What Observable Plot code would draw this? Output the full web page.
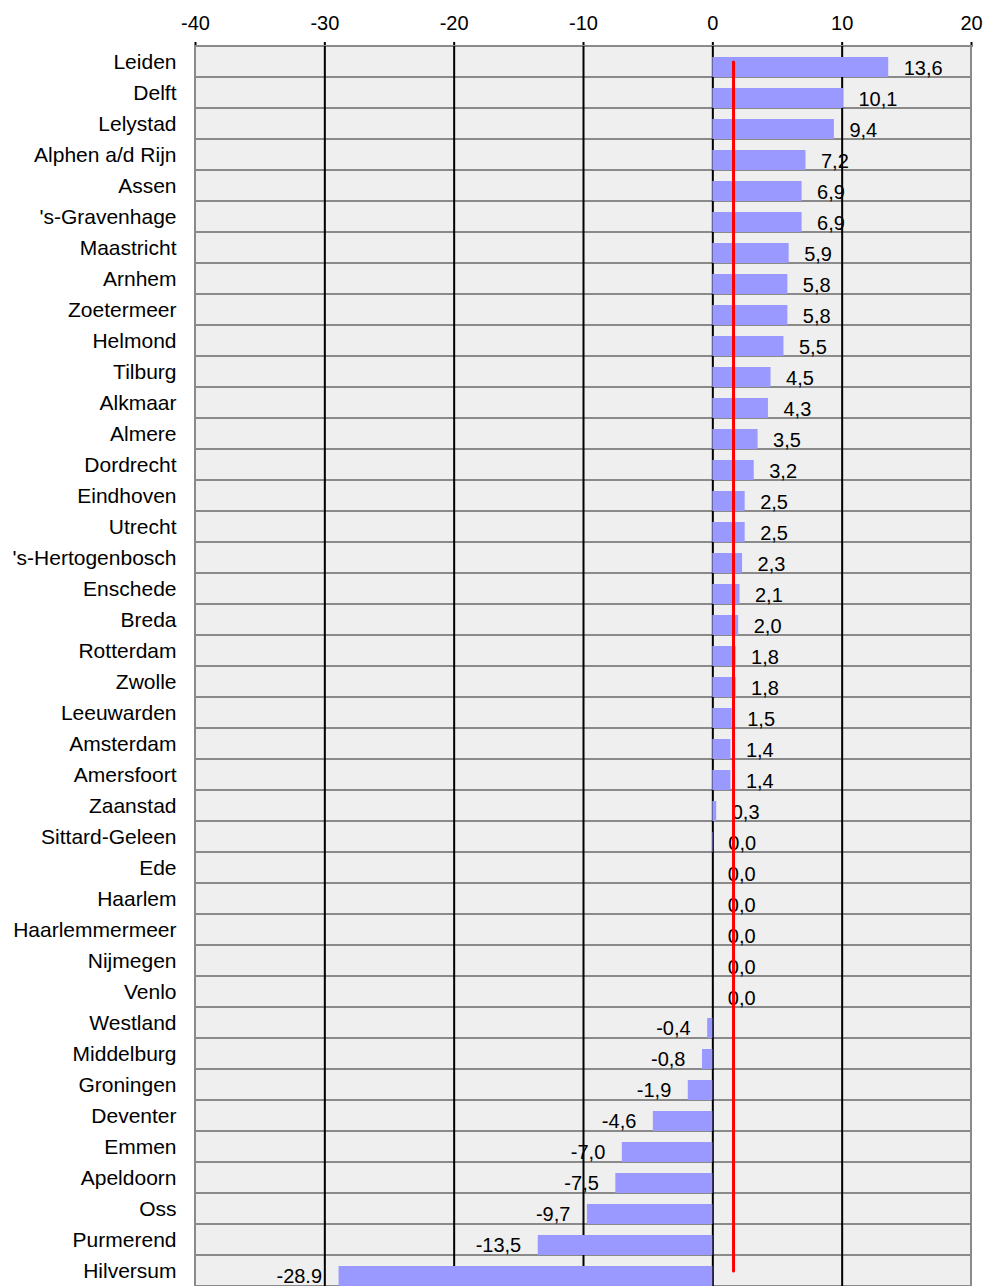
<!DOCTYPE html>
<html>
<head>
<meta charset="utf-8">
<script src="https://cdn.jsdelivr.net/npm/d3@7"></script>
<script src="https://cdn.jsdelivr.net/npm/@observablehq/plot@0.6"></script>
<style>
  html, body { margin: 0; padding: 0; background: #ffffff; }
  #chart svg { display: block; }
</style>
</head>
<body>
<div id="chart"></div>
<script>
const cities = [
  "Leiden", "Delft", "Lelystad", "Alphen a/d Rijn", "Assen", "'s-Gravenhage",
  "Maastricht", "Arnhem", "Zoetermeer", "Helmond", "Tilburg", "Alkmaar",
  "Almere", "Dordrecht", "Eindhoven", "Utrecht", "'s-Hertogenbosch", "Enschede",
  "Breda", "Rotterdam", "Zwolle", "Leeuwarden", "Amsterdam", "Amersfoort",
  "Zaanstad", "Sittard-Geleen", "Ede", "Haarlem", "Haarlemmermeer", "Nijmegen",
  "Venlo", "Westland", "Middelburg", "Groningen", "Deventer", "Emmen",
  "Apeldoorn", "Oss", "Purmerend", "Hilversum"
];
const values = [
  13.6, 10.1, 9.4, 7.2, 6.9, 6.9,
  5.9, 5.8, 5.8, 5.5, 4.5, 4.3,
  3.5, 3.2, 2.5, 2.5, 2.3, 2.1,
  2.0, 1.8, 1.8, 1.5, 1.4, 1.4,
  0.3, 0.04, 0.0, 0.0, 0.0, 0.0,
  0.0, -0.4, -0.8, -1.9, -4.6, -7.0,
  -7.5, -9.7, -13.5, -28.9
];
const valueLabels = [
  "13,6", "10,1", "9,4", "7,2", "6,9", "6,9",
  "5,9", "5,8", "5,8", "5,5", "4,5", "4,3",
  "3,5", "3,2", "2,5", "2,5", "2,3", "2,1",
  "2,0", "1,8", "1,8", "1,5", "1,4", "1,4",
  "0,3", "0,0", "0,0", "0,0", "0,0", "0,0",
  "0,0", "-0,4", "-0,8", "-1,9", "-4,6", "-7,0",
  "-7,5", "-9,7", "-13,5", "-28.9"
];
const xTicks = [-40, -30, -20, -10, 0, 10, 20];
const gridTicks = [-30, -20, -10, 0, 10];
const referenceValue = 1.6;

const data = cities.map((c, i) => ({city: c, value: values[i], label: valueLabels[i]}));
const refLine = [
  {city: cities[0], value: referenceValue},
  {city: cities[cities.length - 1], value: referenceValue}
];

const chart = Plot.plot({
  width: 985,
  height: 1286,
  marginTop: 46,
  marginBottom: 0,
  marginLeft: 195,
  marginRight: 14,
  style: {
    fontFamily: "'Liberation Sans', Arial, sans-serif",
    fontSize: "21px",
    color: "#000",
    background: "#ffffff"
  },
  x: {
    domain: [-40, 20],
    axis: "top",
    ticks: xTicks,
    tickFormat: d => String(d),
    tickSize: 5,
    tickPadding: 12,
    line: true,
    label: null
  },
  y: {
    domain: cities,
    padding: 0,
    tickSize: 0,
    tickPadding: 19,
    label: null
  },
  marks: [
    Plot.frame({fill: "#efefef", stroke: "none"}),
    Plot.barX(cities, {x1: () => -40, x2: () => 20, y: d => d, fill: "none", stroke: "#8a8a8a", strokeWidth: 2}),
    Plot.ruleX(gridTicks, {stroke: "#000", strokeWidth: 2}),
    Plot.barX(data, {x: "value", y: "city", fill: "#9999ff", insetTop: 11, insetBottom: 0}),
    Plot.text(data.filter(d => d.value >= 0), {x: "value", y: "city", text: "label", textAnchor: "start", dx: 15, dy: 7, fontSize: 20, fill: "#000"}),
    Plot.text(data.filter(d => d.value < 0), {x: "value", y: "city", text: "label", textAnchor: "end", dx: -17, dy: 6, fontSize: 20, fill: "#000"}),
    Plot.line(refLine, {x: "value", y: "city", stroke: "#ff0000", strokeWidth: 3, strokeLinecap: "round"})
  ]
});

document.getElementById("chart").appendChild(chart);

// Style the top axis: tick labels size, thicker black domain line
const svg = d3.select(chart);
svg.selectAll('[aria-label^="x-axis"]').each(function() {
  const g = d3.select(this);
  g.attr("font-size", "20px");
  g.selectAll("text").attr("font-size", "20px");
  g.selectAll("path, line").attr("stroke-width", 2).attr("stroke", "#000");
});
</script>
</body>
</html>
